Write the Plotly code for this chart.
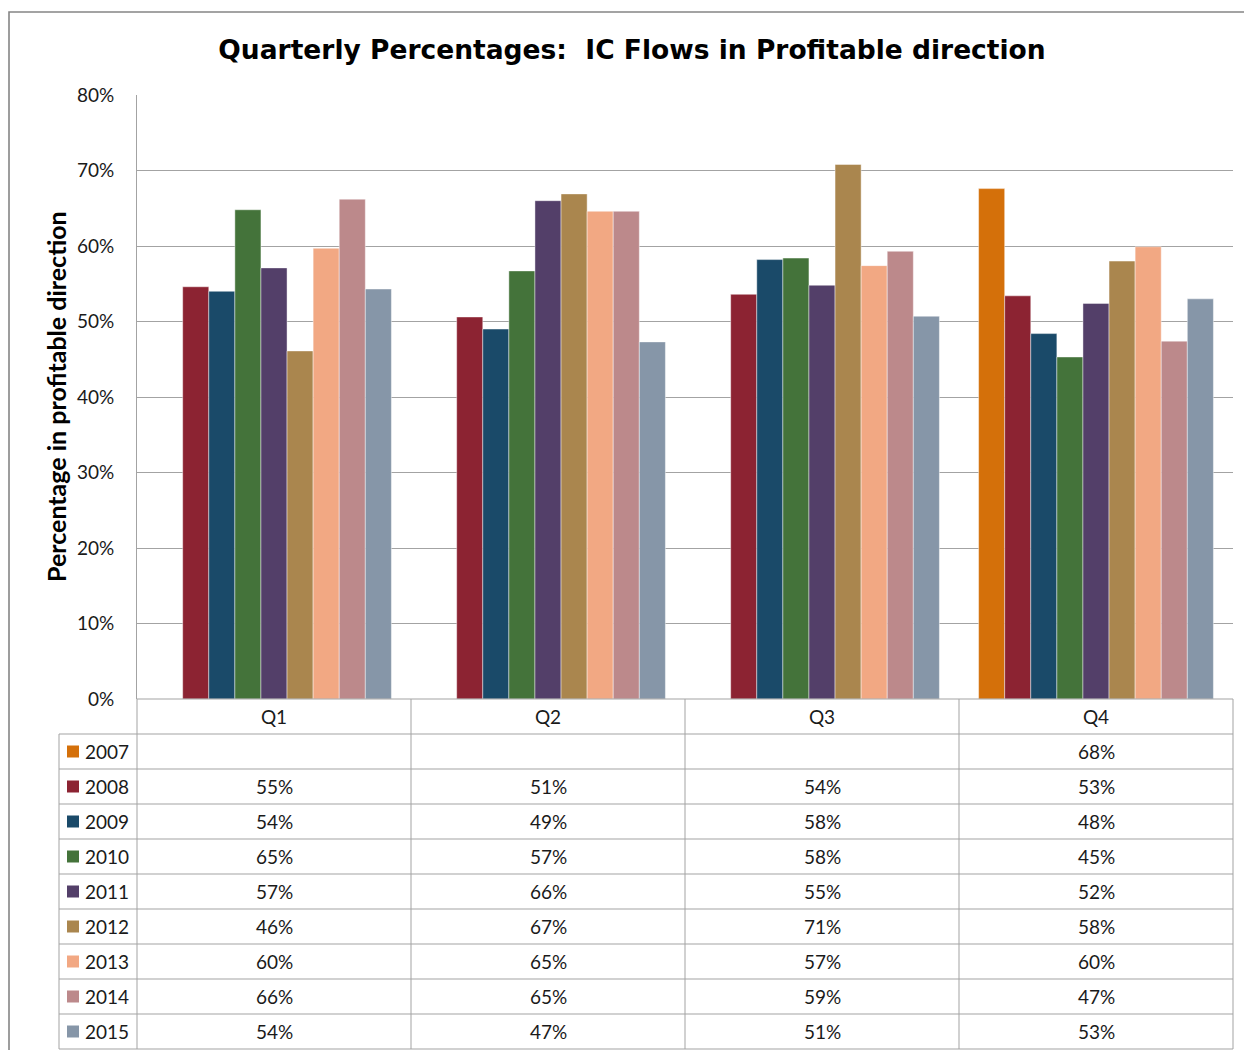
import plotly.graph_objects as go

# ---------------- data ----------------
quarters = ["Q1", "Q2", "Q3", "Q4"]
years = ["2007", "2008", "2009", "2010", "2011", "2012", "2013", "2014", "2015"]

v2007 = [None, None, None, 67.6]
v2008 = [54.6, 50.6, 53.6, 53.4]
v2009 = [54.0, 49.0, 58.2, 48.4]
v2010 = [64.8, 56.7, 58.4, 45.3]
v2011 = [57.1, 66.0, 54.8, 52.4]
v2012 = [46.1, 66.9, 70.8, 58.0]
v2013 = [59.7, 64.6, 57.4, 59.9]
v2014 = [66.2, 64.6, 59.3, 47.4]
v2015 = [54.3, 47.3, 50.7, 53.0]
series = [v2007, v2008, v2009, v2010, v2011, v2012, v2013, v2014, v2015]

colors = ["#D4700A", "#8C2332", "#1A4A69", "#44733A", "#533F69",
          "#AA864E", "#F2A883", "#BC898B", "#8696A8"]

y_ticks = [0, 10, 20, 30, 40, 50, 60, 70, 80]
y_ticklabels = [f"{v}%" for v in y_ticks]
title_text = "Quarterly Percentages:  IC Flows in Profitable direction"
y_title = "Percentage in profitable direction"

# ---------------- layout geometry (page pixels) ----------------
W, H = 1244, 1050
PL, PR, PT, PB = 137, 1233, 95, 1049           # plot area (bars + table)
ROW_H = 35
N_ROWS = len(years) + 1                        # header + one row per year
TABLE_TOP = PB - N_ROWS * ROW_H
LEG_LEFT = 59


def fx(px):
    return (px - PL) / (PR - PL)


def fy(py):
    return (PB - py) / (PB - PT)


TABLE_FRAC = fy(TABLE_TOP)
GRID = "#A3A3A3"
FONT = "Lato"
TXT = "#1a1a1a"

fig = go.Figure()
for name, vals, col in zip(years, series, colors):
    fig.add_trace(go.Bar(
        x=quarters, y=vals, name=name,
        marker=dict(color=col, line=dict(color="rgba(255,255,255,0.55)", width=0.8)),
    ))

shapes = []
# outer chart border
shapes.append(dict(type="rect", xref="paper", yref="paper",
                   x0=fx(9), x1=fx(1300), y0=fy(1100), y1=fy(12),
                   line=dict(color="#858585", width=1.6), fillcolor="rgba(0,0,0,0)", layer="below"))

# table horizontal lines
for k in range(N_ROWS + 1):
    py = TABLE_TOP + k * ROW_H
    x0 = fx(PL) if k == 0 else fx(LEG_LEFT)
    shapes.append(dict(type="line", xref="paper", yref="paper",
                       x0=x0, x1=1, y0=fy(py), y1=fy(py),
                       line=dict(color=GRID, width=1)))
# table vertical lines (category boundaries)
for i in range(len(quarters) + 1):
    shapes.append(dict(type="line", xref="paper", yref="paper",
                       x0=i / len(quarters), x1=i / len(quarters),
                       y0=0, y1=TABLE_FRAC, line=dict(color=GRID, width=1)))
# legend column left border
shapes.append(dict(type="line", xref="paper", yref="paper",
                   x0=fx(LEG_LEFT), x1=fx(LEG_LEFT),
                   y0=0, y1=fy(TABLE_TOP + ROW_H), line=dict(color=GRID, width=1)))

annotations = []
for r, (name, vals, col) in enumerate(zip(years, series, colors)):
    cy = TABLE_TOP + (r + 1.5) * ROW_H
    # legend key
    shapes.append(dict(type="rect", xref="paper", yref="paper",
                       x0=fx(67), x1=fx(79), y0=fy(cy + 6), y1=fy(cy - 6),
                       fillcolor=col, line=dict(width=0)))
    annotations.append(dict(xref="paper", yref="paper", x=fx(83), y=fy(cy),
                            xanchor="left", yanchor="middle", showarrow=False,
                            text=name, font=dict(family=FONT, size=19, color=TXT)))
    for i, v in enumerate(vals):
        if v is None:
            continue
        annotations.append(dict(xref="paper", yref="paper",
                                x=(i + 0.5) / len(quarters), y=fy(cy),
                                xanchor="center", yanchor="middle", showarrow=False,
                                text=f"{v:.0f}%",
                                font=dict(family=FONT, size=19, color=TXT)))

# y-axis title
annotations.append(dict(xref="paper", yref="paper", x=fx(56), y=(TABLE_FRAC + 1) / 2,
                        xanchor="center", yanchor="middle", showarrow=False,
                        textangle=-90, text=f"<b>{y_title}</b>",
                        font=dict(family=FONT, size=25, color="#000000")))

fig.update_layout(
    width=W, height=H, autosize=False,
    margin=dict(l=PL, r=W - PR, t=PT, b=H - PB, pad=0, autoexpand=False),
    paper_bgcolor="white", plot_bgcolor="white",
    barmode="group", bargap=0.143, bargroupgap=0,
    showlegend=False,
    title=dict(text=f"<b>{title_text}</b>", x=632 / W, xref="container", xanchor="center",
               y=1 - 50 / H, yref="container", yanchor="middle", automargin=False,
               font=dict(family="DejaVu Sans", size=26.5, color="#000000")),
    xaxis=dict(anchor="y", range=[-0.5, 3.5], showgrid=False, showline=False,
               ticks="", ticklabelstandoff=5, automargin=False,
               tickfont=dict(family=FONT, size=19, color=TXT)),
    yaxis=dict(domain=[TABLE_FRAC, 1], range=[0, 80], tickmode="array",
               tickvals=y_ticks, ticktext=y_ticklabels,
               showgrid=True, gridcolor=GRID, gridwidth=1,
               showline=True, linecolor=GRID, linewidth=1, zeroline=False,
               ticks="", ticklabelstandoff=18, automargin=False,
               tickfont=dict(family=FONT, size=19, color=TXT)),
    shapes=shapes, annotations=annotations,
)

fig.write_html(
    "out.html",
    config={"displayModeBar": False},
    post_script="document.body.style.margin='0';document.body.style.overflow='hidden';"
                "document.documentElement.style.overflow='hidden';",
)
